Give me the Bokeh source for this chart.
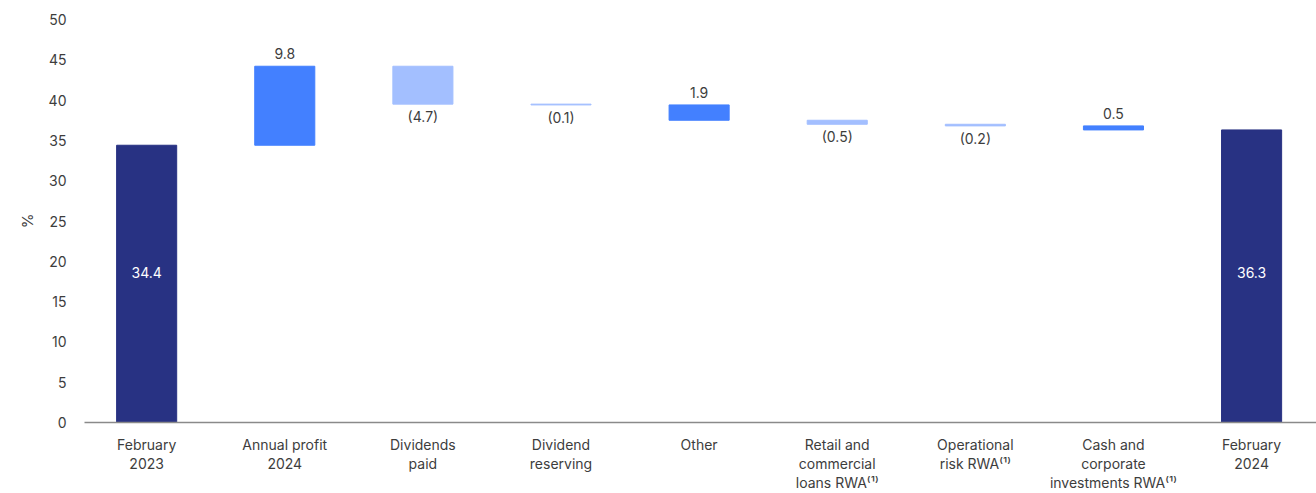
from bokeh.plotting import figure
from bokeh.models import ColumnDataSource, FixedTicker, Range1d
from bokeh.embed import file_html
from bokeh.resources import INLINE
from bokeh.core.properties import value

# ---- data ----
categories = ["February\n2023", "Annual profit\n2024", "Dividends\npaid", "Dividend\nreserving",
              "Other", "Retail and\ncommercial\nloans RWA⁽¹⁾", "Operational\nrisk RWA⁽¹⁾",
              "Cash and\ncorporate\ninvestments RWA⁽¹⁾", "February\n2024"]
start_value = 34.4
end_value = 36.3
deltas = [9.8, -4.7, -0.1, -1.9, -0.5, -0.2, -0.5]
delta_labels = ["9.8", "(4.7)", "(0.1)", "1.9", "(0.5)", "(0.2)", "0.5"]
delta_kinds = ["up", "down", "down", "up", "down", "down", "up"]
y_ticks = list(range(0, 51, 5))

FONT = "Inter"
C_TOTAL = "#283283"
C_UP = "#4380ff"
C_DOWN = "#a3bfff"
TXT = "#3d3d3d"

# ---- build ----
n = len(categories)
xs = list(range(n))

tot = dict(x=[0, n - 1], top=[start_value, end_value],
           lab=[f"{start_value:.1f}", f"{end_value:.1f}"])

level = start_value
mx, lo, hi, cols, lx, ly, ltxt, lup = [], [], [], [], [], [], [], []
for i, (d, lab, k) in enumerate(zip(deltas, delta_labels, delta_kinds)):
    a, b = level, level + d
    level = b
    x = i + 1
    mx.append(x); lo.append(min(a, b)); hi.append(max(a, b))
    cols.append(C_UP if k == "up" else C_DOWN)
    ltxt.append(lab); lx.append(x)
    ly.append(max(a, b) if k == "up" else min(a, b))
    lup.append(k == "up")

p = figure(width=1316, height=493, output_backend="svg", toolbar_location=None,
           x_range=Range1d(-0.45, 8.47), y_range=Range1d(0, 50),
           min_border_left=84, min_border_right=0, min_border_top=19, min_border_bottom=10)
p.outline_line_color = None
p.xgrid.grid_line_color = None
p.ygrid.grid_line_color = None
p.background_fill_color = "white"
p.border_fill_color = "white"

W = 0.435
p.vbar(x="x", top="top", bottom=0, width=W, color=C_TOTAL, source=ColumnDataSource(tot))
p.vbar(x=mx, top=hi, bottom=lo, width=W, color=cols)

p.text(x="x", y=18.6, text="lab", source=ColumnDataSource(tot), text_color="white",
       text_font=value(FONT), text_font_size="14px", text_align="center", text_baseline="middle")

up_src = ColumnDataSource(dict(x=[a for a, u in zip(lx, lup) if u], y=[a for a, u in zip(ly, lup) if u],
                               t=[a for a, u in zip(ltxt, lup) if u]))
dn_src = ColumnDataSource(dict(x=[a for a, u in zip(lx, lup) if not u], y=[a for a, u in zip(ly, lup) if not u],
                               t=[a for a, u in zip(ltxt, lup) if not u]))
p.text(x="x", y="y", text="t", source=up_src, text_color=TXT, text_font=value(FONT),
       text_font_size="14px", text_align="center", text_baseline="bottom", y_offset=-7)
p.text(x="x", y="y", text="t", source=dn_src, text_color=TXT, text_font=value(FONT),
       text_font_size="14px", text_align="center", text_baseline="top", y_offset=4)

# axes
p.xaxis.ticker = FixedTicker(ticks=xs)
p.xaxis.major_label_overrides = {i: c for i, c in enumerate(categories)}
p.xaxis.axis_line_color = "#8a8a8a"
p.xaxis.axis_line_width = 1.3
p.xaxis.major_tick_line_color = None
p.xaxis.minor_tick_line_color = None
p.xaxis.major_label_standoff = 7
p.xaxis.major_label_text_font = FONT
p.xaxis.major_label_text_font_size = "14px"
p.xaxis.major_label_text_color = TXT
p.xaxis.major_label_text_line_height = 1.13

p.yaxis.ticker = FixedTicker(ticks=y_ticks)
p.yaxis.axis_line_color = None
p.yaxis.major_tick_line_color = None
p.yaxis.minor_tick_line_color = None
p.yaxis.major_label_standoff = 12
p.yaxis.major_label_text_font = FONT
p.yaxis.major_label_text_font_size = "14px"
p.yaxis.major_label_text_color = TXT
p.yaxis.axis_label = "%"
p.yaxis.axis_label_text_font = FONT
p.yaxis.axis_label_text_font_style = "normal"
p.yaxis.axis_label_text_font_size = "15px"
p.yaxis.axis_label_text_color = TXT
p.yaxis.axis_label_standoff = 9

open("out.html", "w").write(file_html(p, INLINE))
